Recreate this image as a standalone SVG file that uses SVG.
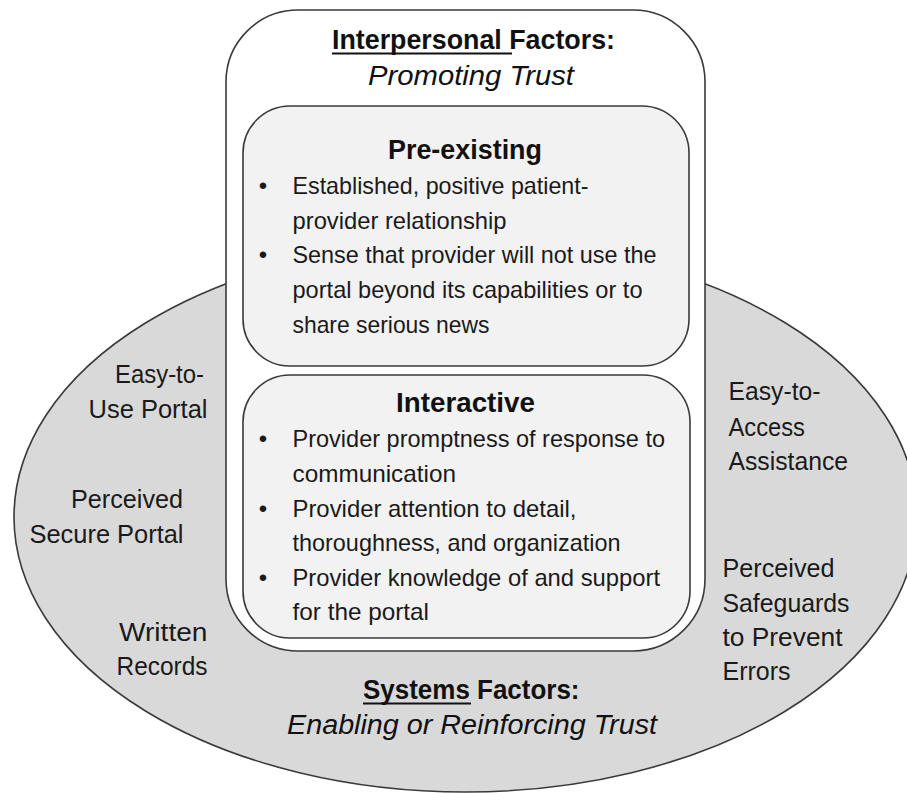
<svg xmlns="http://www.w3.org/2000/svg" width="907" height="793" viewBox="0 0 907 793">
<style>
.sh{stroke:#3a3a3a;stroke-width:1.6}
.t{font-family:"Liberation Sans",Arial,sans-serif;font-size:24px;fill:#1a1a1a}
.l{font-family:"Liberation Sans",Arial,sans-serif;font-size:25px;fill:#1a1a1a}
.h{font-family:"Liberation Sans",Arial,sans-serif;font-size:27px;font-weight:bold;fill:#111}
.i{font-family:"Liberation Sans",Arial,sans-serif;font-size:27px;font-style:italic;fill:#111}
.u{stroke:#111;stroke-width:1.8}
</style>
<rect width="907" height="793" fill="#ffffff"/>
<g id="systems">
<ellipse class="sh" cx="465.5" cy="517" rx="451.5" ry="275" fill="#d9d9d9"/>
</g>
<g id="interpersonal">
<rect class="sh" x="226" y="10" width="479" height="641" rx="72" ry="72" fill="#ffffff"/>
<text class="h" x="332" y="49" textLength="283" lengthAdjust="spacingAndGlyphs">Interpersonal Factors:</text>
<line class="u" x1="332" y1="53.5" x2="512" y2="53.5"/>
<text class="i" x="368" y="85" textLength="206" lengthAdjust="spacingAndGlyphs">Promoting Trust</text>
</g>
<g id="preexisting">
<rect class="sh" x="243" y="106" width="446" height="260" rx="47" ry="47" fill="#f2f2f2"/>
<text class="h" x="388" y="159" textLength="154" lengthAdjust="spacingAndGlyphs">Pre-existing</text>
<text class="t" x="263" y="194" text-anchor="middle">•</text>
<text class="t" x="292.5" y="194" textLength="296" lengthAdjust="spacingAndGlyphs">Established, positive patient-</text>
<text class="t" x="292.5" y="228.5" textLength="214" lengthAdjust="spacingAndGlyphs">provider relationship</text>
<text class="t" x="263" y="263" text-anchor="middle">•</text>
<text class="t" x="292.5" y="263" textLength="364" lengthAdjust="spacingAndGlyphs">Sense that provider will not use the</text>
<text class="t" x="292.5" y="298" textLength="350" lengthAdjust="spacingAndGlyphs">portal beyond its capabilities or to</text>
<text class="t" x="292.5" y="332.5" textLength="197" lengthAdjust="spacingAndGlyphs">share serious news</text>
</g>
<g id="interactive">
<rect class="sh" x="243" y="375" width="447" height="263" rx="47" ry="47" fill="#f2f2f2"/>
<text class="h" x="396" y="411.5" textLength="139" lengthAdjust="spacingAndGlyphs">Interactive</text>
<text class="t" x="263" y="447" text-anchor="middle">•</text>
<text class="t" x="292.5" y="447" textLength="372.5" lengthAdjust="spacingAndGlyphs">Provider promptness of response to</text>
<text class="t" x="292.5" y="481.5" textLength="163.5" lengthAdjust="spacingAndGlyphs">communication</text>
<text class="t" x="263" y="516.5" text-anchor="middle">•</text>
<text class="t" x="292.5" y="516.5" textLength="284" lengthAdjust="spacingAndGlyphs">Provider attention to detail,</text>
<text class="t" x="292.5" y="551" textLength="328" lengthAdjust="spacingAndGlyphs">thoroughness, and organization</text>
<text class="t" x="263" y="586" text-anchor="middle">•</text>
<text class="t" x="292.5" y="586" textLength="367.5" lengthAdjust="spacingAndGlyphs">Provider knowledge of and support</text>
<text class="t" x="292.5" y="620" textLength="136.5" lengthAdjust="spacingAndGlyphs">for the portal</text>
</g>
<g id="systems-labels">
<text class="h" x="363" y="699" textLength="216.5" lengthAdjust="spacingAndGlyphs">Systems Factors:</text>
<line class="u" x1="363" y1="703.5" x2="471" y2="703.5"/>
<text class="i" x="287" y="734" textLength="370" lengthAdjust="spacingAndGlyphs">Enabling or Reinforcing Trust</text>
</g>
<g id="easy-to-use-portal">
<text class="l" x="115" y="383" textLength="89" lengthAdjust="spacingAndGlyphs">Easy-to-</text>
<text class="l" x="88.5" y="418" textLength="119" lengthAdjust="spacingAndGlyphs">Use Portal</text>
</g>
<g id="perceived-secure-portal">
<text class="l" x="71" y="508" textLength="112" lengthAdjust="spacingAndGlyphs">Perceived</text>
<text class="l" x="29.5" y="543" textLength="154" lengthAdjust="spacingAndGlyphs">Secure Portal</text>
</g>
<g id="written-records">
<text class="l" x="119" y="640.5" textLength="88.5" lengthAdjust="spacingAndGlyphs">Written</text>
<text class="l" x="116.5" y="675" textLength="91" lengthAdjust="spacingAndGlyphs">Records</text>
</g>
<g id="easy-to-access-assistance">
<text class="l" x="728.5" y="400" textLength="92" lengthAdjust="spacingAndGlyphs">Easy-to-</text>
<text class="l" x="728.5" y="435.5" textLength="76.5" lengthAdjust="spacingAndGlyphs">Access</text>
<text class="l" x="728.5" y="470" textLength="119.5" lengthAdjust="spacingAndGlyphs">Assistance</text>
</g>
<g id="perceived-safeguards">
<text class="l" x="722.5" y="576.5" textLength="112" lengthAdjust="spacingAndGlyphs">Perceived</text>
<text class="l" x="722.5" y="611.5" textLength="127" lengthAdjust="spacingAndGlyphs">Safeguards</text>
<text class="l" x="722.5" y="646" textLength="120" lengthAdjust="spacingAndGlyphs">to Prevent</text>
<text class="l" x="722.5" y="680" textLength="68" lengthAdjust="spacingAndGlyphs">Errors</text>
</g>
<g id="connectors"></g>
</svg>
